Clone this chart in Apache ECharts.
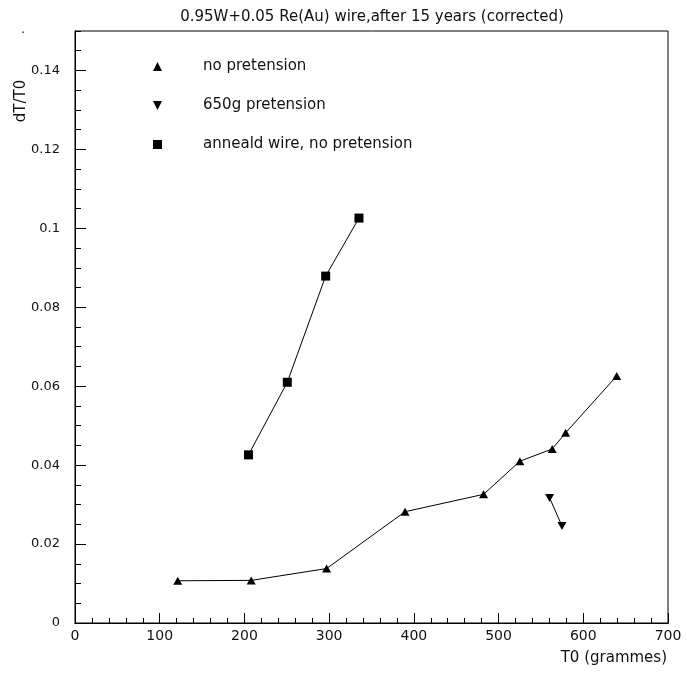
<!DOCTYPE html>
<html>
<head>
<meta charset="utf-8">
<script src="https://cdn.jsdelivr.net/npm/echarts@6/dist/echarts.min.js"></script>
<style>
html,body{margin:0;padding:0;background:#fff;}
#chart{width:687px;height:673px;}
</style>
</head>
<body>
<div id="chart"></div>
<script>
// Data
const titleText = '0.95W+0.05 Re(Au) wire,after 15 years (corrected)';
const xName = 'T0 (grammes)';
const yName = 'dT/T0';
const seriesNames = ['no pretension', '650g pretension', 'anneald wire, no pretension'];

const noPreT0 = [121.3, 208.0, 297.0, 389.6, 482.3, 525.2, 563.4, 579.2, 639.5];
const noPreDT = [0.0107, 0.0108, 0.0138, 0.0282, 0.0326, 0.0410, 0.0441, 0.0482, 0.0626];

const preT0 = [560.3, 574.8];
const preDT = [0.0317, 0.0246];

const annT0 = [204.8, 250.6, 295.9, 335.2];
const annDT = [0.0426, 0.0610, 0.0879, 0.1026];

const xMin = 0, xMax = 700, xMajor = 100, xMinor = 20;
const yMin = 0, yMax = 0.15, yMajor = 0.02, yMinor = 0.005;

function pairs(xs, ys) { return xs.map((x, i) => [x, ys[i]]); }

const FONT = 'DejaVu Sans';
const downTri = 'path://M0,0 L10,0 L5,10 Z';
const upTri = 'path://M5,0 L10,10 L0,10 Z';

const chart = echarts.init(document.getElementById('chart'), null, {renderer: 'canvas'});

const axisCommon = {
  type: 'value',
  splitLine: {show: false},
  axisLine: {show: true, lineStyle: {color: '#000', width: 1}},
};

chart.setOption({
  animation: false,
  backgroundColor: '#fff',
  textStyle: {fontFamily: FONT, color: '#111'},
  grid: {left: 75, right: 19, top: 31, bottom: 50, show: true, borderColor: '#000', borderWidth: 1},
  legend: {
    orient: 'vertical',
    left: 153, top: 59,
    padding: 0,
    itemWidth: 9, itemHeight: 9,
    itemGap: 24,
    textStyle: {fontFamily: FONT, fontSize: 15, color: '#111', padding: [0, 0, 0, 36], lineHeight: 15},
    data: [
      {name: seriesNames[0], icon: upTri},
      {name: seriesNames[1], icon: downTri},
      {name: seriesNames[2], icon: 'rect'}
    ]
  },
  xAxis: [
    Object.assign({}, axisCommon, {
      min: xMin, max: xMax, interval: xMajor,
      axisTick: {show: true, inside: true, length: 10, lineStyle: {color: '#000'}},
      axisLabel: {show: true, margin: 6, fontFamily: FONT, fontSize: 14, color: '#111'}
    }),
    Object.assign({}, axisCommon, {
      position: 'bottom',
      min: xMin, max: xMax, interval: xMinor,
      axisTick: {show: true, inside: true, length: 5, lineStyle: {color: '#000'}},
      axisLabel: {show: false}
    })
  ],
  yAxis: [
    Object.assign({}, axisCommon, {
      min: yMin, max: yMax, interval: yMajor,
      axisTick: {show: true, inside: true, length: 11, lineStyle: {color: '#000'}},
      axisLabel: {show: true, margin: 15, showMaxLabel: false, fontFamily: FONT, fontSize: 13, color: '#111'}
    }),
    Object.assign({}, axisCommon, {
      position: 'left',
      min: yMin, max: yMax, interval: yMinor,
      axisTick: {show: true, inside: true, length: 6, lineStyle: {color: '#000'}},
      axisLabel: {show: false}
    })
  ],
  graphic: [
    {
      type: 'text', x: 372, y: 17,
      style: {text: titleText, fontFamily: FONT, fontSize: 15, fill: '#111', align: 'center', verticalAlign: 'middle'}
    },
    {
      type: 'text', x: 667, y: 658,
      style: {text: xName, fontFamily: FONT, fontSize: 15, fill: '#111', align: 'right', verticalAlign: 'middle'}
    },
    {
      type: 'text', x: 21, y: 101, rotation: Math.PI / 2,
      style: {text: yName, fontFamily: FONT, fontSize: 15, fill: '#111', align: 'center', verticalAlign: 'middle'}
    },
    {
      type: 'text', x: 23, y: 30,
      style: {text: '.', fontFamily: FONT, fontSize: 13, fill: '#111', align: 'center', verticalAlign: 'middle'}
    }
  ],
  series: [
    {
      name: seriesNames[0], type: 'line', xAxisIndex: 0, yAxisIndex: 0,
      data: pairs(noPreT0, noPreDT),
      symbol: upTri, symbolSize: [9, 8],
      lineStyle: {color: '#000', width: 1},
      itemStyle: {color: '#000'}
    },
    {
      name: seriesNames[1], type: 'line', xAxisIndex: 0, yAxisIndex: 0,
      data: pairs(preT0, preDT),
      symbol: downTri, symbolSize: [9, 8],
      lineStyle: {color: '#000', width: 1},
      itemStyle: {color: '#000'}
    },
    {
      name: seriesNames[2], type: 'line', xAxisIndex: 0, yAxisIndex: 0,
      data: pairs(annT0, annDT),
      symbol: 'rect', symbolSize: 9,
      lineStyle: {color: '#000', width: 1},
      itemStyle: {color: '#000'}
    }
  ]
});
</script>
</body>
</html>
